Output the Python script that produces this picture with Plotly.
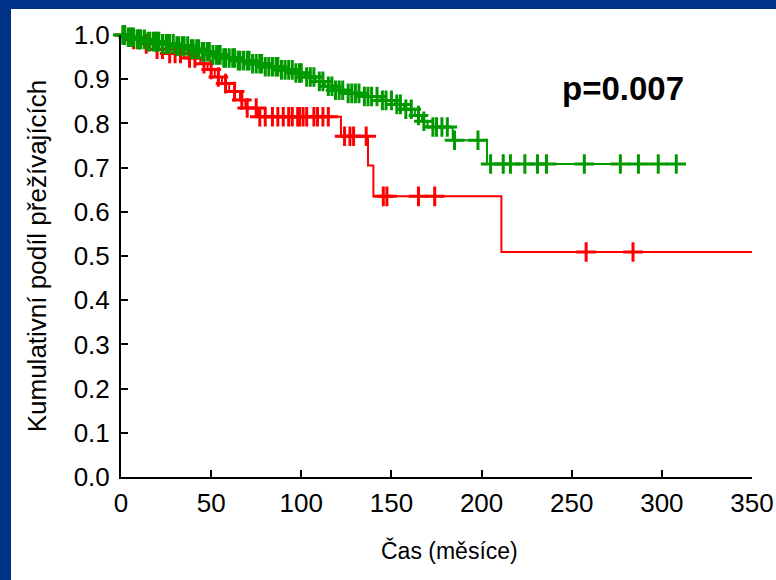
import plotly.graph_objects as go

# ---- data ----
green_step_t = [0, 3, 8, 14, 22, 30, 38, 44, 50, 56, 64, 72, 80, 88, 96, 102, 108, 113, 118, 124,
                134, 144, 152, 157, 163, 167, 170, 184, 203, 308]
green_step_s = [1.0, 0.995, 0.99, 0.985, 0.98, 0.975, 0.968, 0.962, 0.955, 0.948, 0.942, 0.935,
                0.928, 0.921, 0.914, 0.905, 0.895, 0.884, 0.875, 0.868, 0.861, 0.852, 0.843,
                0.832, 0.818, 0.805, 0.792, 0.762, 0.708, 0.708]
green_censor_t = [1, 2, 4, 5, 6, 7, 9, 10, 11, 13, 15, 16, 18, 19, 20, 21, 23, 25, 26, 27, 29, 31,
                  32, 34, 35, 37, 39, 40, 42, 43, 45, 46, 48, 49, 51, 53, 54, 55, 57, 58, 60, 62,
                  63, 65, 66, 68, 70, 71, 73, 75, 77, 78, 80, 82, 84, 86, 87, 89, 91, 93, 95, 97,
                  99, 100, 103, 105, 107, 110, 112, 115, 117, 119, 121, 123, 126, 128, 130, 132,
                  135, 137, 139, 142, 145, 147, 150, 153, 155, 158, 161, 165, 168, 173, 175, 178,
                  181, 185, 198, 205, 212, 216, 224, 231, 236, 257, 277, 287, 298, 308]

red_step_t = [0, 5, 12, 18, 25, 35, 44, 48, 52, 56, 60, 66, 69, 76, 122, 137, 140, 211, 350]
red_step_s = [1.0, 0.99, 0.98, 0.968, 0.958, 0.948, 0.935, 0.922, 0.905, 0.89, 0.872, 0.853,
              0.835, 0.815, 0.771, 0.705, 0.635, 0.509, 0.509]
red_censor_t = [2, 7, 10, 14, 20, 23, 27, 30, 33, 38, 41, 46, 50, 54, 58, 63, 67, 70, 75, 77, 80,
                84, 87, 90, 93, 95, 98, 99, 101, 103, 107, 109, 112, 115, 124, 127, 129, 136,
                145.5, 147.5, 165, 174, 258, 284]

x_ticks = [0, 50, 100, 150, 200, 250, 300, 350]
y_ticks = [0.0, 0.1, 0.2, 0.3, 0.4, 0.5, 0.6, 0.7, 0.8, 0.9, 1.0]
p_text = "p=0.007"
x_title = "Čas (měsíce)"
y_title = "Kumulativní podíl přežívajících"

GREEN = "#009900"
RED = "#ff0000"
FONT = "Arial, Liberation Sans, sans-serif"


def surv_at(step_t, step_s, t):
    s = step_s[0]
    for tt, ss in zip(step_t, step_s):
        if tt <= t:
            s = ss
        else:
            break
    return s


fig = go.Figure()

for st, ss, ct, col in [(red_step_t, red_step_s, red_censor_t, RED),
                        (green_step_t, green_step_s, green_censor_t, GREEN)]:
    fig.add_trace(go.Scatter(x=st, y=ss, mode="lines", line=dict(color=col, width=2, shape="hv"),
                             cliponaxis=False, showlegend=False, hoverinfo="skip"))
    fig.add_trace(go.Scatter(x=ct, y=[surv_at(st, ss, t) for t in ct], mode="markers",
                             marker=dict(symbol="cross-thin", size=14,
                                         line=dict(color=col, width=3)),
                             cliponaxis=False, showlegend=False, hoverinfo="skip"))

fig.add_annotation(x=0.7956, y=0.88, xref="paper", yref="paper", xanchor="center",
                   yanchor="middle", text="<b>" + p_text + "</b>",
                   showarrow=False, font=dict(family=FONT, size=33, color="black"))

# x-axis title (slightly right of plot centre in the reference)
fig.add_annotation(x=0.521, y=-0.1674, xref="paper", yref="paper", xanchor="center",
                   yanchor="middle", text=x_title, showarrow=False,
                   font=dict(family=FONT, size=23, color="black"))

BLUE = "#003189"
fig.add_shape(type="rect", xref="paper", yref="paper", x0=-0.3, x1=-0.1743, y0=-0.4, y1=1.2,
              fillcolor=BLUE, line=dict(width=0), layer="above")
fig.add_shape(type="rect", xref="paper", yref="paper", x0=-0.3, x1=1.1, y0=1.0588, y1=1.2,
              fillcolor=BLUE, line=dict(width=0), layer="above")

fig.update_layout(
    width=776, height=580,
    margin=dict(l=121, r=24, t=35, b=103, autoexpand=False),
    paper_bgcolor="white", plot_bgcolor="white",
    font=dict(family=FONT, size=26, color="black"),
    xaxis=dict(range=[0, 350], tickvals=x_ticks, ticktext=[str(v) for v in x_ticks],
               showgrid=False, zeroline=False, showline=True, linecolor="black", linewidth=2,
               ticks="inside", ticklen=7, tickwidth=1.5, tickcolor="black",
               ticklabelstandoff=2, automargin=False),
    yaxis=dict(range=[0, 1], tickvals=y_ticks, ticktext=[f"{v:.1f}" for v in y_ticks],
               showgrid=False, zeroline=False, showline=True, linecolor="black", linewidth=2,
               ticks="inside", ticklen=7, tickwidth=1.5, tickcolor="black",
               ticklabelstandoff=4, automargin=False,
               title=dict(text=y_title, font=dict(size=26), standoff=20)),
)

fig.write_html("out.html", config={"displayModeBar": False},
               post_script="document.body.style.margin='0';document.body.style.overflow='hidden';")
